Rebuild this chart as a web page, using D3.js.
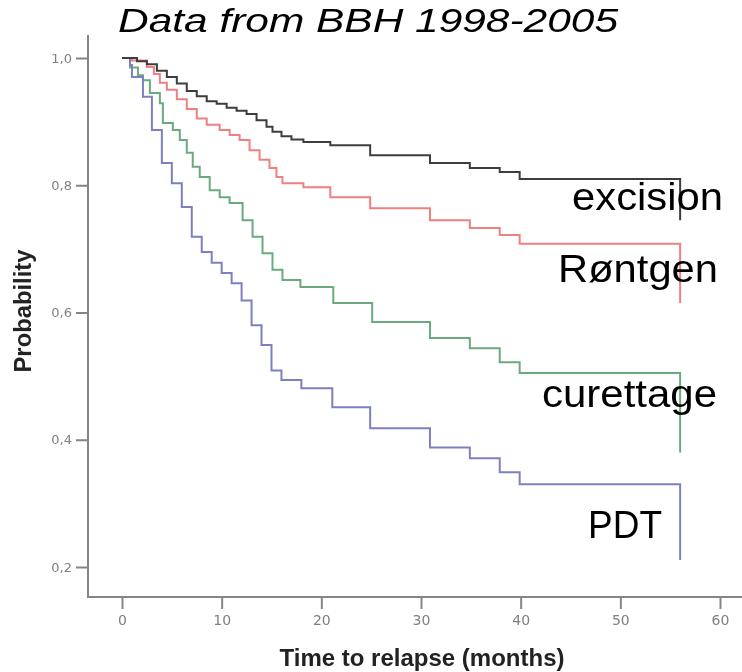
<!DOCTYPE html>
<meta charset="utf-8">
<head>
  <title>Time to relapse</title>
</head>

<style>
body {
  margin: 0;
  background: #fff;
}
.tick text {
  font-family: "DejaVu Sans", sans-serif;
  fill: #808080;
}
.tick line {
  stroke: #858585;
  stroke-width: 2;
}
.axisline {
  stroke: #858585;
  stroke-width: 2;
}
.curve {
  fill: none;
  stroke-width: 2;
}
.lbl {
  font-family: "Liberation Sans", Arial, sans-serif;
  fill: #000;
}
</style>

<body>
  <svg width="742" height="672"></svg>

  <script src="https://cdnjs.cloudflare.com/ajax/libs/d3/7.8.5/d3.min.js"></script>
  <script>
// Kaplan-Meier style steps
var timesExcision = [0, 1.5, 2.5, 3.5, 4.5, 5.5, 6.5, 7.5, 8.5, 9.5, 10.5, 11.5, 12.5, 13.5, 14.5, 15.1, 16.0, 17.0, 18.2, 20.9, 24.9, 30.9, 34.9, 37.9, 39.9, 56]
var survExcision = [1.0, 0.995, 0.99, 0.98, 0.97, 0.96, 0.948, 0.94, 0.932, 0.928, 0.922, 0.917, 0.912, 0.902, 0.892, 0.884, 0.877, 0.872, 0.868, 0.863, 0.847, 0.835, 0.827, 0.821, 0.810, 0.745]

var timesRontgen = [0, 1.0, 2.5, 3.2, 3.8, 4.5, 5.5, 6.5, 7.5, 8.5, 9.8, 10.8, 11.8, 12.8, 13.8, 14.8, 15.5, 16.1, 18.2, 20.9, 24.9, 30.9, 34.9, 37.9, 39.9, 56]
var survRontgen = [1.0, 0.996, 0.986, 0.975, 0.961, 0.95, 0.935, 0.92, 0.905, 0.895, 0.887, 0.879, 0.871, 0.855, 0.84, 0.827, 0.813, 0.803, 0.797, 0.781, 0.764, 0.745, 0.733, 0.722, 0.708, 0.615]

var timesCurettage = [0, 0.8, 1.6, 2.1, 2.8, 3.8, 4.1, 5.1, 5.8, 6.5, 7.1, 7.8, 8.8, 9.8, 10.8, 12.1, 13.1, 14.1, 15.1, 16.1, 17.9, 21.2, 25.1, 30.9, 34.9, 37.9, 39.9, 56]
var survCurettage = [1.0, 0.985, 0.973, 0.965, 0.945, 0.929, 0.898, 0.887, 0.871, 0.851, 0.829, 0.813, 0.792, 0.781, 0.772, 0.745, 0.719, 0.693, 0.667, 0.651, 0.640, 0.615, 0.585, 0.560, 0.544, 0.522, 0.505, 0.380]

var timesPDT = [0, 0.8, 1.0, 2.1, 3.0, 4.0, 5.0, 6.0, 7.0, 8.0, 9.0, 10.0, 11.0, 12.0, 13.0, 14.0, 15.0, 16.0, 18.0, 21.1, 24.9, 30.9, 34.9, 37.9, 39.9, 56]
var survPDT = [1.0, 0.989, 0.970, 0.939, 0.887, 0.835, 0.803, 0.766, 0.719, 0.695, 0.678, 0.662, 0.646, 0.619, 0.580, 0.549, 0.509, 0.494, 0.481, 0.451, 0.418, 0.388, 0.371, 0.349, 0.330, 0.211]

var xTicks = [0, 10, 20, 30, 40, 50, 60]
var yTicks = [0.2, 0.4, 0.6, 0.8, 1.0]

var svg = d3.select('svg')

var x = d3.scaleLinear().domain([0, 60]).range([122, 720])
var y = d3.scaleLinear().domain([0.2, 1.0]).range([567, 58])

var defs = svg.append('defs')
defs.append('filter').attr('id', 'soft')
  .append('feGaussianBlur').attr('stdDeviation', 0.55)

var chart = svg.append('g').attr('filter', 'url(#soft)')

// axis lines
chart.append('line').attr('class', 'axisline')
  .attr('x1', 88).attr('x2', 88).attr('y1', 35).attr('y2', 598)
chart.append('line').attr('class', 'axisline')
  .attr('x1', 87).attr('x2', 742).attr('y1', 597).attr('y2', 597)

var comma = function(d) { return d3.format('.1f')(d).replace('.', ',') }

chart.append('g')
  .attr('transform', 'translate(88,0)')
  .call(d3.axisLeft(y).tickValues(yTicks).tickFormat(comma).tickSize(12).tickPadding(4))
  .call(function(g) { g.select('.domain').remove() })
  .selectAll('text').style('font-size', '13px')

chart.append('g')
  .attr('transform', 'translate(0,597)')
  .call(d3.axisBottom(x).tickValues(xTicks).tickSize(12).tickPadding(6))
  .call(function(g) { g.select('.domain').remove() })
  .selectAll('text').style('font-size', '14px')

var series = [
  { t: timesCurettage, s: survCurettage, color: '#6aaa7e' },
  { t: timesPDT, s: survPDT, color: '#7d80bf' },
  { t: timesRontgen, s: survRontgen, color: '#ee8080' },
  { t: timesExcision, s: survExcision, color: '#3c3c3c' }
]

var line = d3.line()
  .x(function(d) { return x(d[0]) })
  .y(function(d) { return y(d[1]) })
  .curve(d3.curveStepAfter)

chart.selectAll('path.curve')
  .data(series)
  .enter()
  .append('path')
  .attr('class', 'curve')
  .attr('stroke', function(d) { return d.color })
  .attr('d', function(d) { return line(d3.zip(d.t, d.s)) })

// axis titles
chart.append('text')
  .attr('class', 'lbl')
  .attr('transform', 'translate(31,311) rotate(-90)')
  .attr('text-anchor', 'middle')
  .attr('textLength', 123)
  .attr('lengthAdjust', 'spacingAndGlyphs')
  .style('font-size', '24px')
  .style('font-weight', 'bold')
  .style('fill', '#222')
  .text('Probability')

chart.append('text')
  .attr('class', 'lbl')
  .attr('x', 422).attr('y', 666)
  .attr('text-anchor', 'middle')
  .attr('textLength', 285)
  .attr('lengthAdjust', 'spacingAndGlyphs')
  .style('font-size', '24px')
  .style('font-weight', 'bold')
  .style('fill', '#222')
  .text('Time to relapse (months)')

// overlay texts
svg.append('text')
  .attr('class', 'lbl')
  .attr('x', 118).attr('y', 32)
  .attr('textLength', 500)
  .attr('lengthAdjust', 'spacingAndGlyphs')
  .style('font-size', '34px')
  .style('font-style', 'italic')
  .text('Data from BBH 1998-2005')

var labels = [
  { text: 'excision', x: 572, y: 210, w: 151 },
  { text: 'Røntgen', x: 558, y: 282, w: 160 },
  { text: 'curettage', x: 542, y: 407, w: 175 },
  { text: 'PDT', x: 588, y: 538, w: 74 }
]

svg.selectAll('text.curvelbl')
  .data(labels)
  .enter()
  .append('text')
  .attr('class', 'lbl curvelbl')
  .attr('x', function(d) { return d.x })
  .attr('y', function(d) { return d.y })
  .attr('textLength', function(d) { return d.w })
  .attr('lengthAdjust', 'spacingAndGlyphs')
  .style('font-size', '38px')
  .text(function(d) { return d.text })
  </script>
</body>
</html>
